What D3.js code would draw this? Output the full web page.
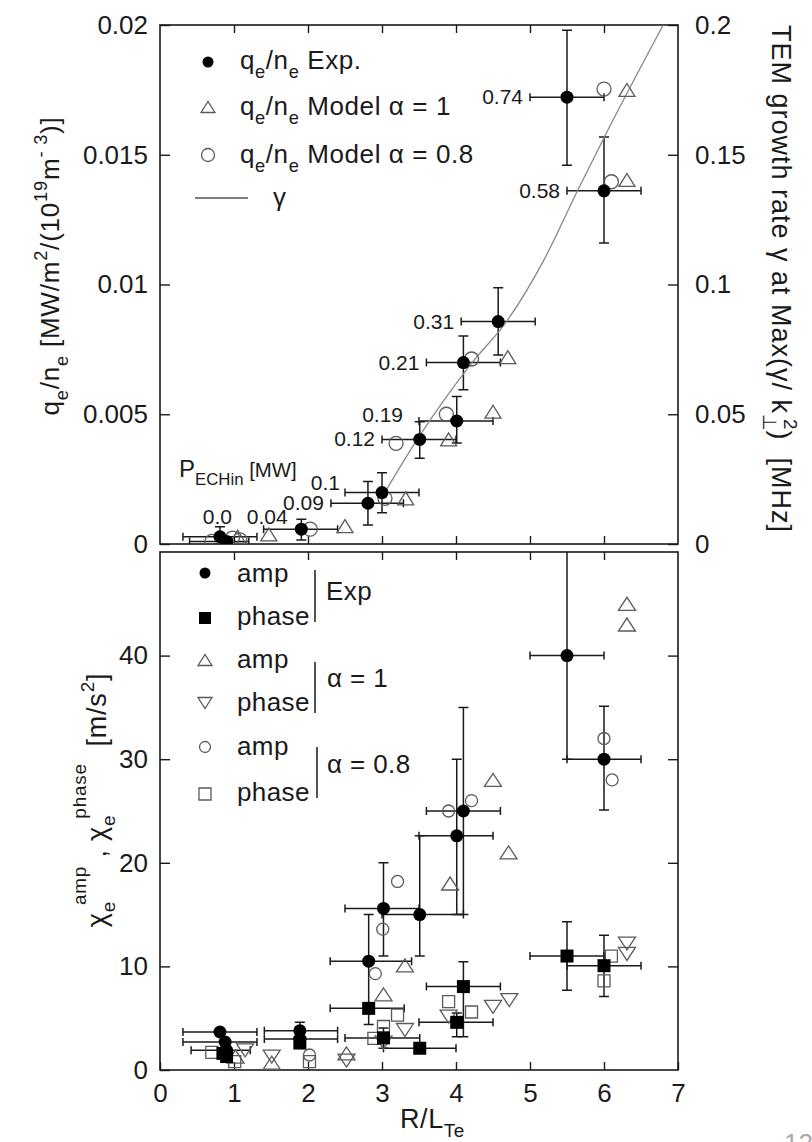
<!DOCTYPE html>
<html>
<head>
<meta charset="utf-8">
<script src="https://cdn.jsdelivr.net/npm/d3@7/dist/d3.min.js"></script>
<style>
  body { margin: 0; background: #fff; }
  svg text { font-family: "Liberation Sans", Arial, Helvetica, sans-serif; fill: #1a1a1a; white-space: pre; }
</style>
</head>
<body>
<div id="graf"></div>
<script>
// ---------------- Datos ----------------
// Eje x común R/L_Te
const xTicks = [0, 1, 2, 3, 4, 5, 6, 7];
const xInner = [1, 2, 3, 4, 5, 6];

// Panel superior: q_e/n_e experimental con barras de error
const qExp = [
  { x: 0.81, y: 0.00028, xlo: 0.31, xhi: 1.31, ylo: 0.0, yhi: 0.00066 },
  { x: 0.9, y: 0.0001, xlo: 0.4, xhi: 1.2 },
  { x: 1.91, y: 0.00057, xlo: 1.4, xhi: 2.4, ylo: 0.00015, yhi: 0.00095 },
  { x: 2.81, y: 0.00157, xlo: 2.31, xhi: 3.29, ylo: 0.00073, yhi: 0.00241 },
  { x: 3.0, y: 0.00198, xlo: 2.5, xhi: 3.5, ylo: 0.0012, yhi: 0.00275 },
  { x: 3.51, y: 0.00403, xlo: 3.0, xhi: 4.0, ylo: 0.0033, yhi: 0.00471 },
  { x: 4.01, y: 0.00474, xlo: 3.5, xhi: 4.5, ylo: 0.00389, yhi: 0.00568 },
  { x: 4.1, y: 0.00699, xlo: 3.6, xhi: 4.6, ylo: 0.00594, yhi: 0.00802 },
  { x: 4.57, y: 0.00857, xlo: 4.07, xhi: 5.07, ylo: 0.00728, yhi: 0.00987 },
  { x: 6.0, y: 0.01361, xlo: 5.5, xhi: 6.5, ylo: 0.0116, yhi: 0.01568 },
  { x: 5.5, y: 0.01722, xlo: 5.0, xhi: 6.0, ylo: 0.0146, yhi: 0.0198 },
];
// Potencia ECH [MW] de cada punto experimental
const pEch = ["0.0", "", "0.04", "0.09", "0.1", "0.12", "0.19", "0.21", "0.31", "0.58", "0.74"];

// Modelo alpha = 1 (triángulos) y alpha = 0.8 (círculos)
const qModel1 = [[1.05, 0.00028], [1.47, 0.00037], [2.5, 0.00069], [3.32, 0.00176], [3.9, 0.00403],
  [4.5, 0.0051], [4.7, 0.0072], [6.31, 0.01403], [6.31, 0.0175]];
const qModel08 = [[0.7, 0.0001], [0.98, 0.00023], [1.08, 0.00016], [2.03, 0.00057], [3.04, 0.00176],
  [3.19, 0.00388], [3.87, 0.005], [4.21, 0.00713], [6.0, 0.01753], [6.1, 0.01396]];

// Tasa de crecimiento TEM gamma [MHz]
const gamma = [[3.02, 0.019], [3.47, 0.040], [4.22, 0.070], [4.69, 0.086], [5.18, 0.109],
  [5.64, 0.136], [5.99, 0.156], [6.8, 0.2]];

// Panel inferior: chi_e experimental (amp = círculos, phase = cuadrados)
const chiAmpExp = [
  { x: 0.81, y: 3.67, xlo: 0.31, xhi: 1.31 },
  { x: 0.88, y: 2.7, xlo: 0.31, xhi: 1.31 },
  { x: 0.9, y: 1.9, xlo: 0.42, xhi: 1.22 },
  { x: 1.89, y: 3.8, xlo: 1.41, xhi: 2.4, ylo: 2.1, yhi: 4.6 },
  { x: 1.89, y: 3.0, xlo: 1.41, xhi: 2.4 },
  { x: 2.82, y: 10.5, xlo: 2.3, xhi: 3.4, ylo: 4.4, yhi: 15.0 },
  { x: 3.02, y: 15.6, xlo: 2.5, xhi: 3.5, ylo: 11.0, yhi: 20.0 },
  { x: 3.51, y: 15.0, xlo: 3.0, xhi: 4.1, ylo: 11.0, yhi: 22.6 },
  { x: 4.01, y: 22.6, xlo: 3.5, xhi: 4.5, ylo: 15.0, yhi: 30.0 },
  { x: 4.1, y: 25.0, xlo: 3.6, xhi: 4.6, ylo: 15.0, yhi: 35.0 },
  { x: 5.5, y: 40.0, xlo: 5.0, xhi: 6.0, ylo: 30.0, yhi: 58.0 },
  { x: 6.0, y: 30.0, xlo: 5.5, xhi: 6.5, ylo: 25.1, yhi: 35.1 },
];
const chiPhaseExp = [
  { x: 0.85, y: 1.6 },
  { x: 0.9, y: 1.3 },
  { x: 1.89, y: 2.6 },
  { x: 2.82, y: 5.95, xlo: 2.3, xhi: 3.3 },
  { x: 3.02, y: 3.1, xlo: 2.5, xhi: 3.51, ylo: 2.1, yhi: 4.05 },
  { x: 3.51, y: 2.1, xlo: 3.02, xhi: 4.0 },
  { x: 4.01, y: 4.6, xlo: 3.5, xhi: 4.5, ylo: 3.2, yhi: 5.5 },
  { x: 4.1, y: 8.05, xlo: 3.6, xhi: 4.6, ylo: 3.2, yhi: 10.45 },
  { x: 5.5, y: 11.0, xlo: 5.0, xhi: 6.0, ylo: 7.7, yhi: 14.3 },
  { x: 6.0, y: 10.07, xlo: 5.5, xhi: 6.5, ylo: 7.1, yhi: 13.0 },
];
// Modelos
const chiAmp1 = [[6.31, 45.0], [6.31, 43.0], [4.5, 28.0], [4.71, 21.0], [3.92, 18.0], [3.31, 10.1],
  [3.02, 7.3], [2.52, 1.6], [1.51, 0.7], [1.02, 1.3]];
const chiPhase1 = [[6.31, 12.2], [6.31, 11.2], [4.72, 6.75], [4.5, 6.1], [3.9, 5.15], [3.31, 3.86],
  [3.02, 2.64], [2.52, 0.9], [1.51, 1.3], [1.15, 1.9]];
const chiAmp08 = [[6.0, 32.0], [6.11, 28.0], [4.21, 26.0], [3.9, 25.0], [3.21, 18.2], [3.01, 13.6],
  [2.91, 9.3], [2.02, 1.45]];
const chiPhase08 = [[6.0, 8.6], [6.1, 11.0], [4.21, 5.6], [3.9, 6.6], [3.21, 5.3], [3.02, 4.2],
  [2.89, 3.06], [2.02, 0.8], [0.7, 1.7], [1.01, 0.8]];

// ---------------- Dimensiones ----------------
const anchoTotal = 812, altoTotal = 1142;
const left = 160, right = 678;
const top1 = 25, bot1 = 544, top2 = 552, bot2 = 1070;
const gray = "#5a5a5a", ink = "#1a1a1a";

// ajuste de etiquetas de potencia (dx, dy en px)
const labelNudge = { "0.0": [49, -20], "0.04": [24, -12], "0.1": [-5, -10], "0.19": [-16, -6] };

const svg = d3.select("#graf").append("svg")
  .attr("width", anchoTotal).attr("height", altoTotal);

const x = d3.scaleLinear().domain([0, 7]).range([left, right]);
const yQ = d3.scaleLinear().domain([0, 0.02]).range([bot1, top1]);
const yG = d3.scaleLinear().domain([0, 0.2]).range([bot1, top1]);
const yC = d3.scaleLinear().domain([0, 50]).range([bot2, top2]);

// texto con subíndices / superíndices
const kinds = { sub: [0.33, 0.7], sup: [-0.45, 0.7], hi: [-0.74, 0.7], small: [0, 0.85] };
function rich(sel, parts, size) {
  let shift = 0;
  parts.forEach(([t, k, dx]) => {
    const [sh, sc] = k ? kinds[k] : [0, 1];
    const s = sh * size;
    sel.append("tspan")
      .attr("dy", s - shift)
      .attr("dx", dx || 0)
      .attr("font-size", size * sc)
      .text(t);
    shift = s;
  });
  return sel;
}

const tri = (w, h, down) => {
  const s = down ? -1 : 1;
  return `M${-w / 2},${s * h / 2}L${w / 2},${s * h / 2}L0,${-s * h / 2}Z`;
};
const sq = (a) => `M${-a / 2},${-a / 2}h${a}v${a}h${-a}Z`;

// clips
const defs = svg.append("defs");
defs.append("clipPath").attr("id", "c1").append("rect")
  .attr("x", left).attr("y", top1).attr("width", right - left).attr("height", bot1 - top1);
defs.append("clipPath").attr("id", "c2").append("rect")
  .attr("x", left).attr("y", top2).attr("width", right - left).attr("height", bot2 - top2);

// ---------------- Ejes ----------------
function styleAxis(g) {
  g.select(".domain").remove();
  g.attr("font-family", '"Liberation Sans", Arial, sans-serif').attr("font-size", 26);
  g.selectAll(".tick line").attr("stroke", ink).attr("stroke-width", 1.4);
  g.selectAll(".tick text").attr("fill", ink);
}
const fmt = (d) => String(d);

svg.append("g").attr("transform", `translate(0,${bot1})`)
  .call(d3.axisBottom(x).tickValues(xInner).tickSize(-8).tickFormat("")).call(styleAxis);
svg.append("g").attr("transform", `translate(0,${top1})`)
  .call(d3.axisTop(x).tickValues(xInner).tickSize(-8).tickFormat("")).call(styleAxis);
svg.append("g").attr("transform", `translate(${left},0)`)
  .call(d3.axisLeft(yQ).tickValues([0, 0.005, 0.01, 0.015, 0.02]).tickSize(-10).tickPadding(12).tickFormat(fmt))
  .call(styleAxis);
svg.append("g").attr("transform", `translate(${right},0)`)
  .call(d3.axisRight(yG).tickValues([0, 0.05, 0.1, 0.15, 0.2]).tickSize(-10).tickPadding(17).tickFormat(fmt))
  .call(styleAxis);

svg.append("g").attr("transform", `translate(0,${bot2})`)
  .call(d3.axisBottom(x).tickValues(xTicks).tickSize(-8).tickPadding(14).tickFormat(fmt)).call(styleAxis);
svg.append("g").attr("transform", `translate(0,${top2})`)
  .call(d3.axisTop(x).tickValues(xInner).tickSize(-8).tickFormat("")).call(styleAxis);
svg.append("g").attr("transform", `translate(${left},0)`)
  .call(d3.axisLeft(yC).tickValues([0, 10, 20, 30, 40]).tickSize(-10).tickPadding(12).tickFormat(fmt))
  .call(styleAxis);
svg.append("g").attr("transform", `translate(${right},0)`)
  .call(d3.axisRight(yC).tickValues([10, 20, 30, 40]).tickSize(-10).tickFormat("")).call(styleAxis);

// marcos
[[top1, bot1], [top2, bot2]].forEach(([a, b]) => {
  svg.append("rect").attr("x", left).attr("y", a).attr("width", right - left).attr("height", b - a)
    .attr("fill", "none").attr("stroke", ink).attr("stroke-width", 1.6);
});

// ---------------- Barras de error ----------------
function drawErr(g, data, ys) {
  g.selectAll(null).data(data.filter((d) => d.xlo !== undefined)).join("path")
    .attr("d", (d) => {
      const y0 = ys(d.y), a = x(d.xlo), b = x(d.xhi);
      return `M${a},${y0}H${b}M${a},${y0 - 4}V${y0 + 4}M${b},${y0 - 4}V${y0 + 4}`;
    })
    .attr("fill", "none").attr("stroke", ink).attr("stroke-width", 1.5);
  g.selectAll(null).data(data.filter((d) => d.ylo !== undefined)).join("path")
    .attr("d", (d) => {
      const x0 = x(d.x), a = ys(d.ylo), b = ys(d.yhi);
      return `M${x0},${a}V${b}M${x0 - 5},${a}H${x0 + 5}M${x0 - 5},${b}H${x0 + 5}`;
    })
    .attr("fill", "none").attr("stroke", ink).attr("stroke-width", 1.5);
}

// ---------------- Panel superior ----------------
const g1 = svg.append("g").attr("clip-path", "url(#c1)");
drawErr(g1, qExp, yQ);

g1.append("path").datum(gamma)
  .attr("d", d3.line().x((d) => x(d[0])).y((d) => yG(d[1])).curve(d3.curveMonotoneX))
  .attr("fill", "none").attr("stroke", "#888").attr("stroke-width", 1.3);

g1.selectAll(null).data(qModel1).join("path")
  .attr("transform", (d) => `translate(${x(d[0])},${yQ(d[1])})`)
  .attr("d", tri(16, 13, false))
  .attr("fill", "none").attr("stroke", gray).attr("stroke-width", 1.3);
g1.selectAll(null).data(qModel08).join("circle")
  .attr("cx", (d) => x(d[0])).attr("cy", (d) => yQ(d[1])).attr("r", 7)
  .attr("fill", "none").attr("stroke", gray).attr("stroke-width", 1.3);
g1.selectAll(null).data(qExp).join("circle")
  .attr("cx", (d) => x(d.x)).attr("cy", (d) => yQ(d.y)).attr("r", 6.5).attr("fill", "#000");

// etiquetas de potencia
svg.append("g").selectAll("text").data(qExp.map((d, i) => ({ ...d, p: pEch[i] })).filter((d) => d.p))
  .join("text")
  .attr("text-anchor", "end").attr("font-size", 21)
  .attr("x", (d) => x(d.xlo) + (labelNudge[d.p] || [-7, 0])[0])
  .attr("y", (d) => yQ(d.y) + (labelNudge[d.p] || [-7, 0])[1] + 7)
  .text((d) => d.p);

rich(svg.append("text").attr("x", 179).attr("y", 477), [["P"], ["ECHin", "sub"], [" [MW]", "small"]], 24);

// leyenda superior
const lg1 = svg.append("g");
lg1.append("circle").attr("cx", 208).attr("cy", 62).attr("r", 5.5).attr("fill", "#000");
lg1.append("path").attr("transform", "translate(208,107)").attr("d", tri(14, 11, false))
  .attr("fill", "none").attr("stroke", gray).attr("stroke-width", 1.3);
lg1.append("circle").attr("cx", 208).attr("cy", 155).attr("r", 6.5)
  .attr("fill", "none").attr("stroke", gray).attr("stroke-width", 1.3);
lg1.append("line").attr("x1", 195).attr("x2", 248).attr("y1", 198).attr("y2", 198)
  .attr("stroke", "#555").attr("stroke-width", 1.3);
const qn = [["q"], ["e", "sub"], ["/n"], ["e", "sub"]];
[[69, " Exp."], [115, " Model α = 1"], [163, " Model α = 0.8"]].forEach(([yy, t]) => {
  rich(lg1.append("text").attr("x", 240).attr("y", yy).attr("letter-spacing", 0.6), [...qn, [t]], 26);
});
lg1.append("text").attr("x", 273).attr("y", 206).attr("font-size", 26).text("γ");

// ---------------- Panel inferior ----------------
const g2 = svg.append("g").attr("clip-path", "url(#c2)");
drawErr(g2, chiAmpExp, yC);
drawErr(g2, chiPhaseExp, yC);

g2.selectAll(null).data(chiAmp1).join("path")
  .attr("transform", (d) => `translate(${x(d[0])},${yC(d[1])})`).attr("d", tri(17, 13, false))
  .attr("fill", "none").attr("stroke", gray).attr("stroke-width", 1.3);
g2.selectAll(null).data(chiPhase1).join("path")
  .attr("transform", (d) => `translate(${x(d[0])},${yC(d[1])})`).attr("d", tri(17, 13, true))
  .attr("fill", "none").attr("stroke", gray).attr("stroke-width", 1.3);
g2.selectAll(null).data(chiAmp08).join("circle")
  .attr("cx", (d) => x(d[0])).attr("cy", (d) => yC(d[1])).attr("r", 6)
  .attr("fill", "none").attr("stroke", gray).attr("stroke-width", 1.3);
g2.selectAll(null).data(chiPhase08).join("path")
  .attr("transform", (d) => `translate(${x(d[0])},${yC(d[1])})`).attr("d", sq(12))
  .attr("fill", "none").attr("stroke", gray).attr("stroke-width", 1.3);
g2.selectAll(null).data(chiPhaseExp).join("path")
  .attr("transform", (d) => `translate(${x(d.x)},${yC(d.y)})`).attr("d", sq(13)).attr("fill", "#000");
g2.selectAll(null).data(chiAmpExp).join("circle")
  .attr("cx", (d) => x(d.x)).attr("cy", (d) => yC(d.y)).attr("r", 6.5).attr("fill", "#000");

// leyenda inferior
const lg2 = svg.append("g");
lg2.append("circle").attr("cx", 205).attr("cy", 573).attr("r", 5.5).attr("fill", "#000");
lg2.append("path").attr("transform", "translate(205,618)").attr("d", sq(12)).attr("fill", "#000");
lg2.append("path").attr("transform", "translate(205,660)").attr("d", tri(14, 11, false))
  .attr("fill", "none").attr("stroke", gray).attr("stroke-width", 1.3);
lg2.append("path").attr("transform", "translate(205,703)").attr("d", tri(14, 11, true))
  .attr("fill", "none").attr("stroke", gray).attr("stroke-width", 1.3);
lg2.append("circle").attr("cx", 205).attr("cy", 747).attr("r", 5.5)
  .attr("fill", "none").attr("stroke", gray).attr("stroke-width", 1.3);
lg2.append("path").attr("transform", "translate(205,794)").attr("d", sq(12))
  .attr("fill", "none").attr("stroke", gray).attr("stroke-width", 1.3);
[[582, "amp"], [625, "phase"], [668, "amp"], [711, "phase"], [755, "amp"], [801, "phase"]].forEach(([yy, t]) => {
  lg2.append("text").attr("x", 237).attr("y", yy).attr("font-size", 26).attr("letter-spacing", 0.4).text(t);
});
[[315, 570, 622], [315, 662, 713], [317, 747, 798]].forEach(([xx, a, b]) => {
  lg2.append("line").attr("x1", xx).attr("x2", xx).attr("y1", a).attr("y2", b)
    .attr("stroke", ink).attr("stroke-width", 1.5);
});
[[326, 600, "Exp"], [327, 687, "α = 1"], [327, 773, "α = 0.8"]].forEach(([xx, yy, t]) => {
  lg2.append("text").attr("x", xx).attr("y", yy).attr("font-size", 26).attr("letter-spacing", 0.4).text(t);
});

// ---------------- Títulos de ejes ----------------
rich(svg.append("text").attr("text-anchor", "middle").attr("letter-spacing", 0.8)
  .attr("transform", "translate(59,266) rotate(-90)"),
  [["q"], ["e", "sub"], ["/n"], ["e", "sub"], [" [MW/m"], ["2", "sup"], ["/(10"], ["19", "sup"], ["m"], ["- 3", "sup"], [")]"]], 26);

rich(svg.append("text").attr("text-anchor", "middle").attr("letter-spacing", 1)
  .attr("transform", "translate(772,279) rotate(90)"),
  [["TEM growth rate γ at Max(γ/ k"], ["⊥", "sub"], ["2", "sup", -13], [")  [MHz]"]], 27);

rich(svg.append("text").attr("text-anchor", "middle").attr("letter-spacing", 0.8)
  .attr("transform", "translate(106,800) rotate(-90)"),
  [["χ"], ["e", "sub"], ["amp", "hi", -4], [" , χ"], ["e", "sub"], ["phase", "hi", -4], ["  [m/s"], ["2", "sup"], ["]"]], 27);

rich(svg.append("text").attr("x", 400).attr("y", 1128).attr("letter-spacing", 0.6),
  [["R/L"], ["Te", "sub"]], 27);

// número de página recortado en el borde
svg.append("text").attr("x", 784).attr("y", 1152).attr("font-size", 26)
  .style("fill", "#aaa").text("12");
</script>
</body>
</html>
